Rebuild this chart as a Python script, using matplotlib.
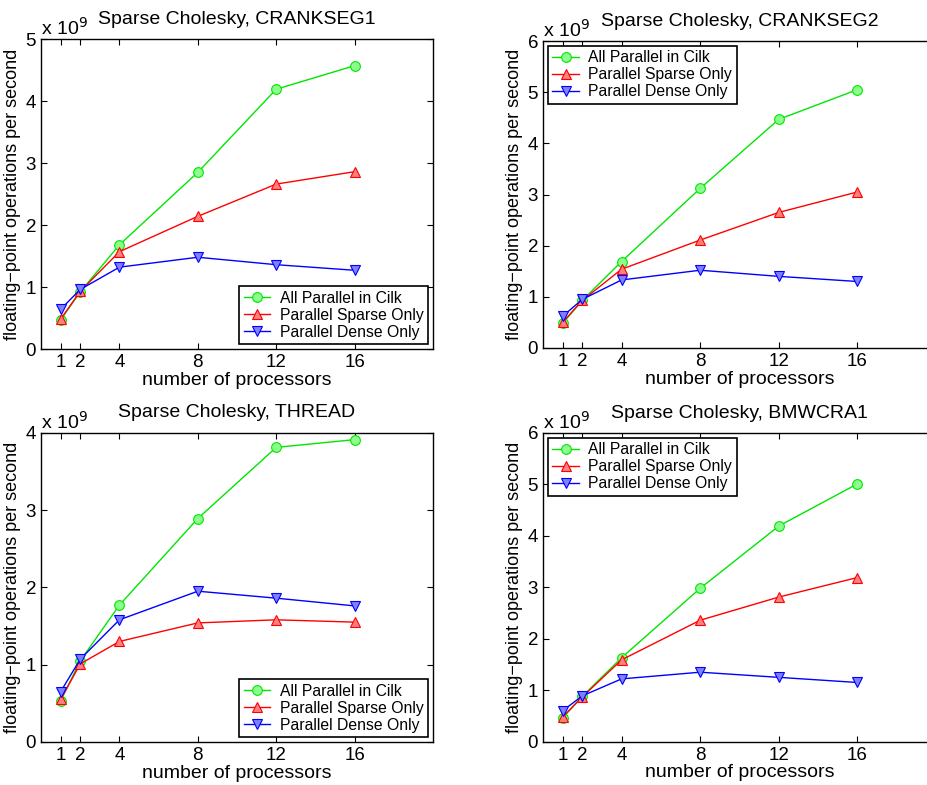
import numpy as np
import matplotlib
matplotlib.use("Agg")
import matplotlib.pyplot as plt

plt.rcParams["font.family"] = ["Liberation Sans", "DejaVu Sans"]

procs = [1, 2, 4, 8, 12, 16]
series_names = ["All Parallel in Cilk", "Parallel Sparse Only", "Parallel Dense Only"]

# values in units of 1e9 flop/s
crankseg1_all    = [0.47, 0.92, 1.68, 2.85, 4.19, 4.57]
crankseg1_sparse = [0.48, 0.93, 1.57, 2.14, 2.66, 2.86]
crankseg1_dense  = [0.64, 0.96, 1.32, 1.48, 1.36, 1.27]

crankseg2_all    = [0.48, 0.93, 1.69, 3.12, 4.47, 5.05]
crankseg2_sparse = [0.50, 0.93, 1.54, 2.11, 2.65, 3.05]
crankseg2_dense  = [0.62, 0.95, 1.33, 1.52, 1.40, 1.30]

thread_all    = [0.53, 1.05, 1.77, 2.89, 3.81, 3.91]
thread_sparse = [0.55, 1.01, 1.30, 1.54, 1.58, 1.55]
thread_dense  = [0.65, 1.07, 1.58, 1.95, 1.86, 1.76]

bmwcra1_all    = [0.46, 0.88, 1.63, 2.98, 4.19, 5.01]
bmwcra1_sparse = [0.48, 0.87, 1.59, 2.36, 2.81, 3.19]
bmwcra1_dense  = [0.60, 0.89, 1.22, 1.35, 1.25, 1.15]

panels = [
    ("CRANKSEG1", [crankseg1_all, crankseg1_sparse, crankseg1_dense], 5, "lower right"),
    ("CRANKSEG2", [crankseg2_all, crankseg2_sparse, crankseg2_dense], 6, "upper left"),
    ("THREAD", [thread_all, thread_sparse, thread_dense], 4, "lower right"),
    ("BMWCRA1", [bmwcra1_all, bmwcra1_sparse, bmwcra1_dense], 6, "upper left"),
]

# (left, bottom, width, height) in figure fractions
rects = [
    (0.0442, 0.5554, 0.4224, 0.3949),
    (0.5851, 0.5567, 0.4235, 0.3910),
    (0.0442, 0.0548, 0.4224, 0.3940),
    (0.5851, 0.0552, 0.4235, 0.3933),
]

styles = [
    dict(color=(0.0, 0.9, 0.0), marker="o", mfc=(0.55, 1.0, 0.55)),
    dict(color=(1.0, 0.0, 0.0), marker="^", mfc=(1.0, 0.5, 0.5)),
    dict(color=(0.0, 0.0, 1.0), marker="v", mfc=(0.5, 0.5, 1.0)),
]

fig = plt.figure(figsize=(9.28, 7.85), dpi=100)

for (name, data, ytop, loc), rect in zip(panels, rects):
    ax = fig.add_axes(rect)
    for vals, label, st in zip(data, series_names, styles):
        ax.plot(procs, vals, color=st["color"], marker=st["marker"], lw=1.0,
                ms=7, mfc=st["mfc"], mec=st["color"], mew=0.8, label=label)
    ax.set_xlim(0, 20)
    ax.set_ylim(0, ytop)
    ax.set_xticks(procs)
    ax.set_yticks(range(0, ytop + 1))
    ax.tick_params(direction="in", top=True, right=True, length=4,
                   labelsize=13.5, width=0.8, pad=3.5)
    for sp in ax.spines.values():
        sp.set_linewidth(1.0)
    ax.set_title(f"Sparse Cholesky, {name}", fontsize=14, pad=11)
    ax.set_xlabel("number of processors", fontsize=14, labelpad=0.5)
    ax.set_ylabel("floating\u2212point operations per second", fontsize=13, labelpad=3)
    ax.text(0.0, 1.0, "x 10$^9$", transform=ax.transAxes, fontsize=14,
            ha="left", va="bottom")
    leg = ax.legend(loc=loc, fontsize=11.3, fancybox=False, framealpha=1,
                    edgecolor="black", borderaxespad=0.3, handlelength=1.7,
                    borderpad=0.3, labelspacing=0.12, handletextpad=0.6)
    leg.get_frame().set_linewidth(1.2)

fig.savefig("out.png", dpi=100)
